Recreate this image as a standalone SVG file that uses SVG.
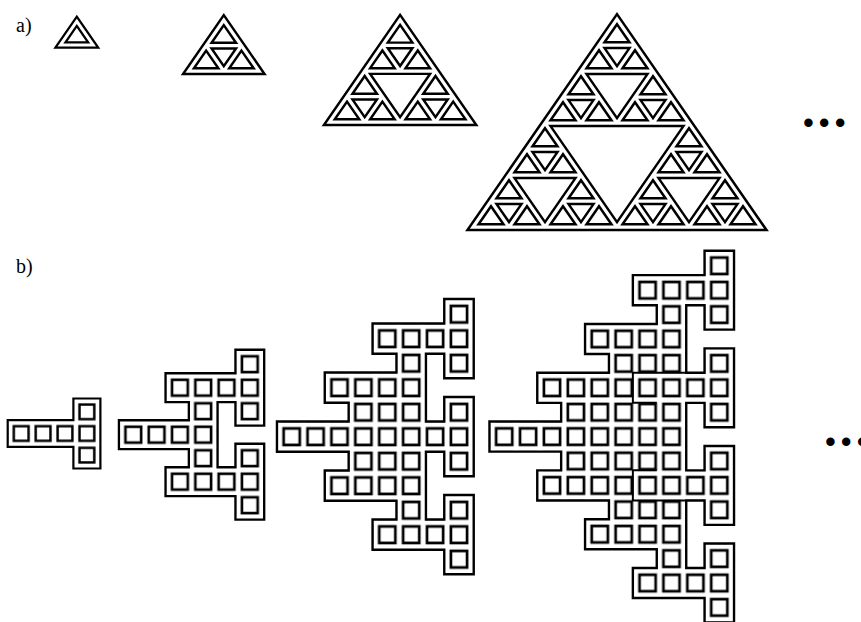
<svg xmlns="http://www.w3.org/2000/svg" xmlns:xlink="http://www.w3.org/1999/xlink" width="861" height="622" viewBox="0 0 861 622">
<style>
.ln{fill:#fff;stroke:#000;stroke-width:2.5;stroke-linejoin:miter}
.ol{fill:none;stroke:#000;stroke-width:4.8;stroke-linejoin:miter}
.fl{fill:url(#sq);stroke:none}
.sm{fill:none;stroke:#000;stroke-width:2}
.lbl{font-family:"Liberation Serif","Times New Roman",serif;font-size:20px;fill:#000}
.dots{font-family:"Liberation Sans",Arial,sans-serif;font-size:31px;letter-spacing:5px;fill:#000}
</style>
<defs>
<path id="tu" class="ln" d="M0 5.095L12.465 23.1L-12.465 23.1Z"/>
<path id="tv1" class="ln" d="M-12.465 28.9L12.465 28.9L0 46.905Z"/>
<g id="h1"><use href="#tu"/><use href="#tu" x="-18" y="26"/><use href="#tu" x="18" y="26"/><use href="#tv1"/></g>
<path id="tv2" class="ln" d="M-30.465 54.9L30.465 54.9L0 98.905Z"/>
<g id="h2"><use href="#h1"/><use href="#h1" x="-36" y="52"/><use href="#h1" x="36" y="52"/><use href="#tv2"/></g>
<path id="tv3" class="ln" d="M-66.465 106.9L66.465 106.9L0 202.905Z"/>
<g id="h3"><use href="#h2"/><use href="#h2" x="-72" y="104"/><use href="#h2" x="72" y="104"/><use href="#tv3"/></g>
<pattern id="sq" patternUnits="userSpaceOnUse" x="-12" y="-12" width="24" height="24"><rect width="24" height="24" fill="#fff"/><rect x="3.9" y="3.9" width="16.2" height="16.2" fill="none" stroke="#000" stroke-width="2.7"/></pattern>
<path id="b0" d="M-13.6 -13.6H85.6V13.6H-13.6ZM58.4 -37.6H85.6V37.6H58.4Z"/>
<path id="b1" d="M106.4 -85.6H133.6V-10.4H106.4ZM34.4 -61.6H133.6V-34.4H34.4ZM58.4 -61.6H85.6V61.6H58.4ZM-13.6 -13.6H85.6V13.6H-13.6ZM34.4 34.4H133.6V61.6H34.4ZM106.4 10.4H133.6V85.6H106.4Z"/>
<path id="b2" d="M154.4 -133.6H181.6V-58.4H154.4ZM82.4 -109.6H181.6V-82.4H82.4ZM106.4 -109.6H133.6V109.6H106.4ZM34.4 -61.6H133.6V-34.4H34.4ZM58.4 -61.6H133.6V61.6H58.4ZM154.4 -37.6H181.6V37.6H154.4ZM-13.6 -13.6H181.6V13.6H-13.6ZM34.4 34.4H133.6V61.6H34.4ZM82.4 82.4H181.6V109.6H82.4ZM154.4 58.4H181.6V133.6H154.4Z"/>
<path id="b3" d="M202.4 -181.6H229.6V-106.4H202.4ZM130.4 -157.6H229.6V-130.4H130.4ZM154.4 -157.6H181.6V157.6H154.4ZM82.4 -109.6H181.6V-82.4H82.4ZM106.4 -109.6H181.6V109.6H106.4ZM202.4 -85.6H229.6V-10.4H202.4ZM34.4 -61.6H229.6V-34.4H34.4ZM58.4 -61.6H181.6V61.6H58.4ZM-13.6 -13.6H181.6V13.6H-13.6ZM34.4 34.4H229.6V61.6H34.4ZM202.4 10.4H229.6V85.6H202.4ZM82.4 82.4H181.6V109.6H82.4ZM202.4 106.4H229.6V181.6H202.4ZM130.4 130.4H229.6V157.6H130.4Z"/>
</defs>
<rect width="861" height="622" fill="#fff"/>
<text class="lbl" x="16" y="31.5">a)</text>
<g id="tri0" transform="translate(76.8 21.3) scale(0.909)">
<path class="ln" d="M0 -5.095L23.535 28.9L-23.535 28.9Z"/>
<use href="#tu"/>
</g>
<g id="tri1" transform="translate(223.8 20.1) scale(0.981)">
<path class="ln" d="M0 -5.095L41.535 54.9L-41.535 54.9Z"/>
<use href="#h1"/>
</g>
<g id="tri2" transform="translate(400.1 19.9) scale(0.983)">
<path class="ln" d="M0 -5.095L77.535 106.9L-77.535 106.9Z"/>
<use href="#h2"/>
</g>
<g id="tri3" transform="translate(617 19.2)">
<path class="ln" d="M0 -5.095L149.535 210.9L-149.535 210.9Z"/>
<use href="#h3"/>
</g>
<text class="dots" x="803" y="133">•••</text>
<text class="lbl" x="16" y="273">b)</text>
<g id="tee0" transform="translate(21.2 433.5) scale(0.9125 0.902)">
<use href="#b0" class="ol"/><use href="#b0" class="fl"/>
</g>
<g id="tee1" transform="translate(133.3 434.7) scale(0.971 0.979)">
<use href="#b1" class="ol"/><use href="#b1" class="fl"/>
</g>
<g id="tee2" transform="translate(291.7 436.7) scale(0.9958 1.0208)">
<use href="#b2" class="ol"/><use href="#b2" class="fl"/>
</g>
<g id="tee3" transform="translate(504.2 436.6) scale(0.9958 1.0167)">
<use href="#b3" class="ol"/><use href="#b3" class="fl"/>
<path class="sm" d="M182 -62.8H129.2V-33.2H153.2M182 62.8H129.2V33.2H153.2"/>
</g>
<text class="dots" x="825" y="452">•••</text>
</svg>
